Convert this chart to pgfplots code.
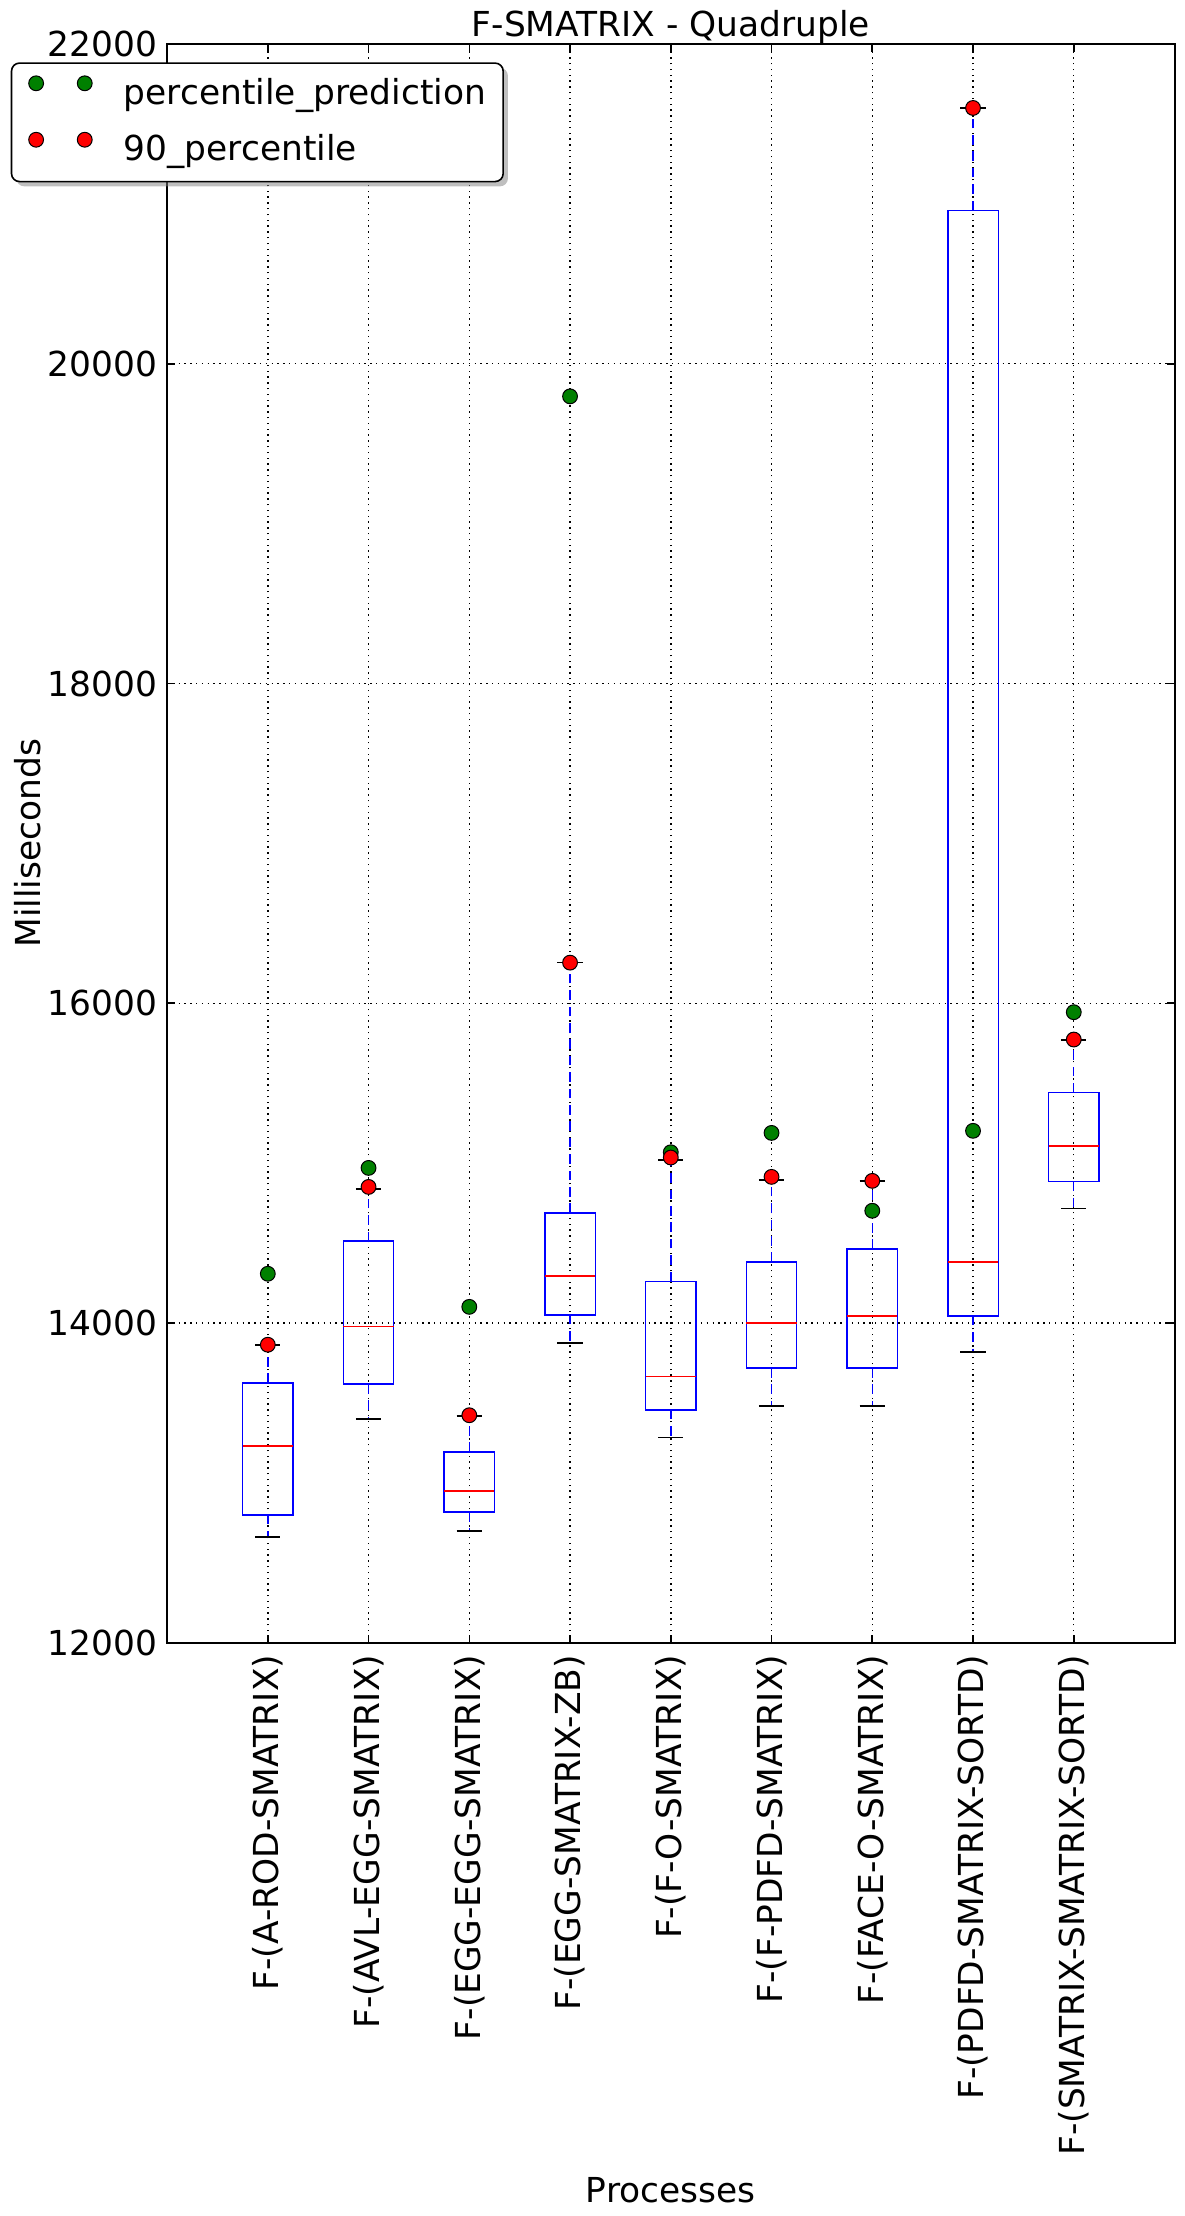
\documentclass[border=0pt]{standalone}
\usepackage{fontspec}
\setmainfont{DejaVu Sans}
\usepackage{pgfplots}
\pgfplotsset{compat=1.18}
\usepgfplotslibrary{statistics}
\usetikzlibrary{shadows}
\definecolor{mplblue}{rgb}{0,0,1}
\definecolor{mplred}{rgb}{1,0,0}
\definecolor{mplgreen}{rgb}{0,0.5,0}
\pgfplotsset{
  mybox/.style={
    forget plot,
    draw=mplblue,
    boxplot/draw direction=y,
    boxplot/box extend=0.5,
    boxplot/whisker extend=0.25,
    boxplot/every box/.style={draw=mplblue, line width=0.35pt},
    boxplot/every median/.style={draw=mplred, line width=0.35pt},
    boxplot/draw/lower whisker/.code={%
      \draw[mplblue, line width=0.35pt, dash pattern=on 2.4pt off 1.7pt]
        (boxplot box cs:\pgfplotsboxplotvalue{lower quartile},0.5) --
        (boxplot box cs:\pgfplotsboxplotvalue{lower whisker},0.5);
      \draw[black, line width=0.4pt]
        (boxplot whisker cs:\pgfplotsboxplotvalue{lower whisker},0) --
        (boxplot whisker cs:\pgfplotsboxplotvalue{lower whisker},1);
    },
    boxplot/draw/upper whisker/.code={%
      \draw[mplblue, line width=0.35pt, dash pattern=on 2.4pt off 1.7pt]
        (boxplot box cs:\pgfplotsboxplotvalue{upper quartile},0.5) --
        (boxplot box cs:\pgfplotsboxplotvalue{upper whisker},0.5);
      \draw[black, line width=0.4pt]
        (boxplot whisker cs:\pgfplotsboxplotvalue{upper whisker},0) --
        (boxplot whisker cs:\pgfplotsboxplotvalue{upper whisker},1);
    },
  },
  twomarks/.style={
    legend image code/.code={%
      \draw[##1] plot coordinates {(0pt,3pt) (12.15pt,3pt)};
    },
  },
}
\begin{document}
\fontsize{8.6}{10.3}\selectfont
\begin{tikzpicture}
\begin{axis}[
  name=ax,
  scale only axis,
  width=251.75pt, height=399.5pt,
  xmin=0, xmax=10, ymin=12000, ymax=22000,
  xtick={1,2,3,4,5,6,7,8,9},
  xticklabels={F-(A-ROD-SMATRIX),F-(AVL-EGG-SMATRIX),F-(EGG-EGG-SMATRIX),F-(EGG-SMATRIX-ZB),F-(F-O-SMATRIX),F-(F-PDFD-SMATRIX),F-(FACE-O-SMATRIX),F-(PDFD-SMATRIX-SORTD),F-(SMATRIX-SMATRIX-SORTD)},
  xticklabel style={rotate=90, anchor=east},
  ytick={12000,14000,16000,18000,20000,22000},
  yticklabel style={inner xsep=2.3pt},
  scaled y ticks=false,
  /pgf/number format/1000 sep={},
  /pgf/number format/assume math mode=true,
  tick align=inside,
  major tick length=2pt,
  tick style={black, line width=0.4pt},
  xmajorgrids, ymajorgrids,
  grid style={black, line width=0.35pt, dash pattern=on 0.35pt off 1.1pt},
  axis line style={black, line width=0.5pt},
  title={F-SMATRIX - Quadruple},
  every axis title/.style={at={(axis description cs:0.5,1)}, anchor=base, yshift=1.8pt, inner sep=0pt},
  xlabel={Processes},
  every axis x label/.style={at={(axis description cs:0.5,0)}, anchor=base, yshift=-139.75pt, inner sep=0pt},
  ylabel={Milliseconds},
  every axis y label/.style={at={(axis description cs:-0.1385,0.5)}, anchor=center, rotate=90},
  legend cell align=left,
  legend style={
    at={(-0.1552,0.98855)}, anchor=north west,
    draw=black, line width=0.4pt, rounded corners=2pt,
    fill=white, drop shadow={shadow xshift=1.2pt, shadow yshift=-1.2pt},
    inner xsep=4.3pt, inner ysep=3.2pt,
    column sep=7.95pt, row sep=5pt,
    nodes={inner sep=0pt, text height=6.5pt, text depth=2pt},
  },
]
% box plots: lower whisker, lower quartile, median, upper quartile, upper whisker
\addplot[mybox, boxplot prepared={draw position=1, lower whisker=12661, lower quartile=12800, median=13231, upper quartile=13625, upper whisker=13864}] coordinates {};
\addplot[mybox, boxplot prepared={draw position=2, lower whisker=13399, lower quartile=13618, median=13978, upper quartile=14512, upper whisker=14840}] coordinates {};
\addplot[mybox, boxplot prepared={draw position=3, lower whisker=12699, lower quartile=12818, median=12950, upper quartile=13193, upper whisker=13419}] coordinates {};
\addplot[mybox, boxplot prepared={draw position=4, lower whisker=13875, lower quartile=14051, median=14295, upper quartile=14688, upper whisker=16254}] coordinates {};
\addplot[mybox, boxplot prepared={draw position=5, lower whisker=13283, lower quartile=13457, median=13665, upper quartile=14261, upper whisker=15021}] coordinates {};
\addplot[mybox, boxplot prepared={draw position=6, lower whisker=13482, lower quartile=13718, median=14000, upper quartile=14382, upper whisker=14894}] coordinates {};
\addplot[mybox, boxplot prepared={draw position=7, lower whisker=13482, lower quartile=13718, median=14045, upper quartile=14463, upper whisker=14887}] coordinates {};
\addplot[mybox, boxplot prepared={draw position=8, lower whisker=13819, lower quartile=14045, median=14382, upper quartile=20960, upper whisker=21600}] coordinates {};
\addplot[mybox, boxplot prepared={draw position=9, lower whisker=14717, lower quartile=14886, median=15107, upper quartile=15441, upper whisker=15769}] coordinates {};
% percentile_prediction
\addplot[only marks, mark=*, mark size=1.85pt, mark options={fill=mplgreen, draw=black, line width=0.25pt}, twomarks]
  coordinates {(1,14308) (2,14970) (3,14101) (4,19796) (5,15068) (6,15189) (7,14702) (8,15202) (9,15944)};
\addlegendentry{percentile\_prediction}
% 90_percentile
\addplot[only marks, mark=*, mark size=1.85pt, mark options={fill=mplred, draw=black, line width=0.25pt}, twomarks]
  coordinates {(1,13864) (2,14851) (3,13423) (4,16254) (5,15035) (6,14914) (7,14889) (8,21600) (9,15773)};
\addlegendentry{90\_percentile}
\end{axis}
\pgfresetboundingbox
\path ([xshift=-41.75pt,yshift=-143.25pt]ax.south west) rectangle ([xshift=2.5pt,yshift=11pt]ax.north east);
\end{tikzpicture}
\end{document}
